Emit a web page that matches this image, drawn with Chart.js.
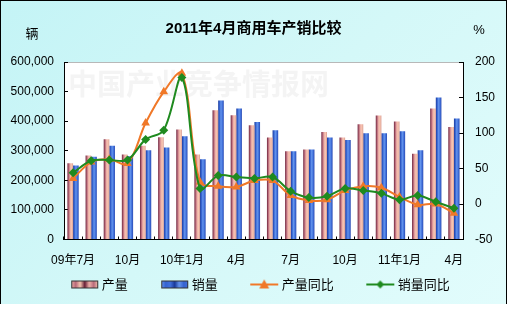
<!DOCTYPE html>
<html>
<head>
<meta charset="utf-8">
<script src="https://cdn.jsdelivr.net/npm/chart.js@4"></script>
<style>
  html, body { margin: 0; padding: 0; background: #ffffff; }
  #frame {
    position: absolute; left: 0; top: 0;
    width: 505px; height: 303px;
    border: 1px solid #000; border-bottom: none;
    background: linear-gradient(135deg, #c4f4f6 0%, #d4f8f8 50%, #e2fcfc 100%);
  }
  #frame canvas { display: block; }
</style>
</head>
<body>
<div id="frame"><canvas id="c" width="505" height="303"></canvas></div>
<script>
// Monthly commercial-vehicle output and sales, Jul 2009 – Apr 2011
const months = ['09年7月','8月','9月','10月','11月','12月','10年1月','2月','3月','4月','5月','6月',
                '7月','8月','9月','10月','11月','12月','11年1月','2月','3月','4月'];
const production    = [258000, 284000, 339000, 287000, 317000, 346000, 372000, 287000, 437000, 420000, 386000,
                       345000, 298000, 304000, 363000, 345000, 390000, 419000, 399000, 290000, 443000, 380000];
const sales         = [250000, 280000, 317000, 281000, 302000, 311000, 349000, 271000, 470000, 443000, 397000,
                       369000, 298000, 304000, 345000, 336000, 359000, 359000, 366000, 302000, 480000, 409000];
const productionYoY = [36, 59, 63, 57, 114, 158, 184, 31, 25, 24, 33, 33, 12, 5, 6, 19, 25, 23, 10, -1, 0, -13];
const salesYoY      = [44, 61, 62, 62, 91, 104, 178, 22, 40, 38, 36, 38, 18, 9, 11, 22, 19, 15, 6, 12, 3, -6];

const seriesNames = ['产量', '销量', '产量同比', '销量同比'];
const chartTitle = '2011年4月商用车产销比较';
const leftUnit = '辆';
const rightUnit = '%';
const watermark = '中国产业竞争情报网';

const FONT = '"Liberation Sans", "Noto Sans CJK SC", sans-serif';
const CJK = '"Noto Sans CJK SC", "Liberation Sans", sans-serif';
const CAT_PCT = 0.62;

const prodStops  = ['#6a2038', '#b86a7a', '#eeb0a8', '#f6c6b0', '#d89890'];
const salesStops = ['#1a3a9a', '#3563d0', '#6494ec', '#4272dc', '#2848b0'];
const orange = '#f07828';
const green = '#1f8a1f';

// horizontal shading across each bar, positioned from the category scale
function barFill(stops, side) {
  return (ctx) => {
    const chart = ctx.chart;
    const xs = chart.scales.x;
    if (ctx.type !== 'data' || !xs || !xs.width) return stops[2];
    const center = xs.getPixelForValue(ctx.dataIndex);
    const w = (xs.width / months.length) * CAT_PCT / 2;
    const left = side < 0 ? center - w : center;
    const g = chart.ctx.createLinearGradient(left, 0, left + w, 0);
    stops.forEach((c, i) => g.addColorStop(i / (stops.length - 1), c));
    return g;
  };
}

// legend keys: bar swatch or line-with-marker, drawn at the right end of a wider canvas
function swatchKey(stops) {
  const c = document.createElement('canvas');
  c.width = 62; c.height = 10;
  const g = c.getContext('2d');
  const gr = g.createLinearGradient(34, 0, 61, 0);
  const band = [stops[2], stops[1], stops[3], stops[0], stops[2], stops[1], stops[3]];
  band.forEach((col, i) => gr.addColorStop(i / (band.length - 1), col));
  g.fillStyle = gr;
  g.fillRect(34, 1, 27, 8);
  g.strokeStyle = '#333';
  g.lineWidth = 1;
  g.strokeRect(34.5, 1.5, 26, 7);
  return c;
}
function lineKey(color, marker) {
  const c = document.createElement('canvas');
  c.width = 62; c.height = 12;
  const g = c.getContext('2d');
  g.strokeStyle = color; g.lineWidth = 2;
  g.beginPath(); g.moveTo(33, 6); g.lineTo(61, 6); g.stroke();
  g.fillStyle = color;
  g.beginPath();
  if (marker === 'triangle') { g.moveTo(47, 1); g.lineTo(52, 10); g.lineTo(42, 10); }
  else { g.moveTo(47, 2); g.lineTo(51, 6); g.lineTo(47, 10); g.lineTo(43, 6); }
  g.closePath(); g.fill();
  return c;
}
const legendKeys = [swatchKey(prodStops), swatchKey(salesStops), lineKey(orange, 'triangle'), lineKey(green, 'diamond')];

const decor = {
  id: 'decor',
  afterLayout(chart) {
    chart.legend.left -= 8;
    chart.legend.right -= 8;
  },
  beforeDraw(chart) {
    const { ctx, chartArea: a } = chart;
    ctx.save();
    ctx.fillStyle = '#ffffff';
    ctx.fillRect(a.left, a.top, a.right - a.left, a.bottom - a.top);
    ctx.font = 'bold 29px ' + CJK;
    ctx.fillStyle = 'rgba(150,150,150,0.10)';
    ctx.textBaseline = 'middle';
    ctx.textAlign = 'left';
    ctx.fillText(watermark, a.left + 4, a.top + 22);
    ctx.strokeStyle = '#b8b8b8';
    ctx.lineWidth = 1;
    ctx.beginPath();
    ctx.moveTo(a.left, a.top + 0.5);
    ctx.lineTo(a.right, a.top + 0.5);
    ctx.stroke();
    ctx.restore();
  },
  afterDraw(chart) {
    const { ctx, chartArea: a } = chart;
    ctx.save();
    ctx.fillStyle = '#000';
    ctx.font = '13px ' + CJK;
    ctx.textAlign = 'center';
    ctx.textBaseline = 'middle';
    ctx.fillText(leftUnit, a.left - 32, a.top - 29);
    ctx.font = '13px ' + FONT;
    ctx.fillText(rightUnit, a.right + 16, a.top - 32);
    ctx.restore();
  }
};

new Chart(document.getElementById('c'), {
  data: {
    labels: months,
    datasets: [
      { type: 'bar', label: seriesNames[0], data: production, yAxisID: 'y', order: 2,
        backgroundColor: barFill(prodStops, -1), borderWidth: 0,
        categoryPercentage: CAT_PCT, barPercentage: 1 },
      { type: 'bar', label: seriesNames[1], data: sales, yAxisID: 'y', order: 3,
        backgroundColor: barFill(salesStops, 1), borderWidth: 0,
        categoryPercentage: CAT_PCT, barPercentage: 1 },
      { type: 'line', label: seriesNames[2], data: productionYoY, yAxisID: 'y1', order: 1,
        borderColor: orange, backgroundColor: orange, borderWidth: 2, tension: 0.35,
        pointStyle: 'triangle', pointRadius: 5, pointBorderWidth: 0, fill: false },
      { type: 'line', label: seriesNames[3], data: salesYoY, yAxisID: 'y1', order: 0,
        borderColor: green, backgroundColor: green, borderWidth: 2, tension: 0.35,
        pointStyle: 'rectRot', pointRadius: 4.5, pointBorderWidth: 0, fill: false }
    ]
  },
  options: {
    responsive: false,
    animation: false,
    devicePixelRatio: 1,
    layout: { padding: { left: 0, right: 0, top: 0, bottom: 3 } },
    scales: {
      x: {
        type: 'category',
        offset: true,
        grid: { offset: true, drawOnChartArea: false, drawTicks: true, tickLength: -3, color: '#000' },
        border: { color: '#000', width: 1 },
        ticks: {
          autoSkip: false, maxRotation: 0, minRotation: 0, padding: 17,
          color: '#000', font: { family: FONT, size: 12 },
          callback: (v, i) => (i % 3 === 0 ? months[i] : '')
        },
        afterFit: (s) => { s.height = 35; }
      },
      y: {
        position: 'left', min: 0, max: 600000,
        grid: { drawOnChartArea: false, drawTicks: true, tickLength: -4, color: '#000' },
        border: { color: '#000', width: 1 },
        ticks: { stepSize: 100000, padding: 14, color: '#000', font: { family: FONT, size: 12 } },
        afterFit: (s) => { s.width = 63; }
      },
      y1: {
        position: 'right', min: -50, max: 200,
        grid: { drawOnChartArea: false, drawTicks: true, tickLength: -4, color: '#000' },
        border: { color: '#000', width: 1 },
        ticks: { stepSize: 50, padding: 16, color: '#000', font: { family: FONT, size: 12 } },
        afterFit: (s) => { s.width = 43; }
      }
    },
    plugins: {
      title: {
        display: true, text: chartTitle, color: '#000',
        font: { family: FONT, size: 15, weight: 'bold' },
        padding: { top: 19, bottom: 24 }
      },
      legend: {
        position: 'bottom',
        labels: {
          usePointStyle: true, pointStyleWidth: 54, padding: 3.5,
          color: '#000', font: { family: CJK, size: 13 },
          generateLabels: () => seriesNames.map((t, i) => ({
            text: t, pointStyle: legendKeys[i], fillStyle: 'transparent',
            strokeStyle: 'transparent', lineWidth: 0, hidden: false, datasetIndex: i, fontColor: '#000'
          }))
        }
      },
      tooltip: { enabled: false }
    }
  },
  plugins: [decor]
});
</script>
</body>
</html>
